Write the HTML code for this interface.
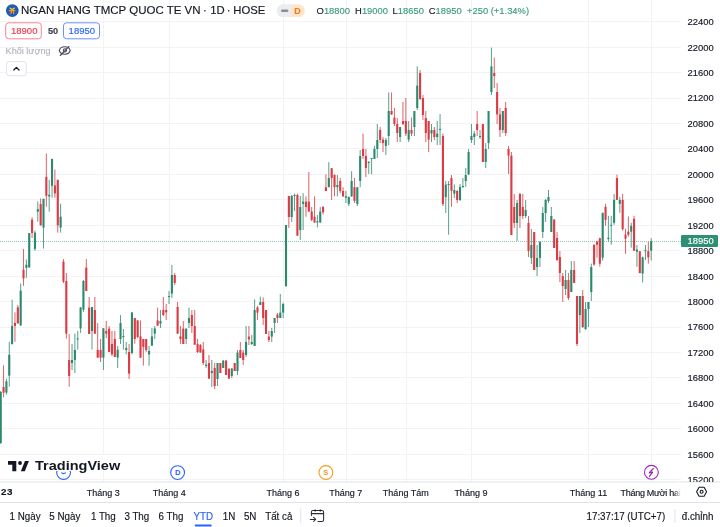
<!DOCTYPE html>
<html><head><meta charset="utf-8"><style>
html,body{margin:0;padding:0;background:#fff;}
body{width:720px;height:527px;overflow:hidden;position:relative;font-family:"Liberation Sans",sans-serif;}
svg{position:absolute;left:0;top:0;}
.t div{position:absolute;white-space:nowrap;line-height:1;-webkit-text-stroke:0.15px currentColor;font-family:"Liberation Sans",sans-serif;}
.clip{position:absolute;left:0;top:482px;width:681px;height:20px;overflow:hidden;will-change:transform;-webkit-text-stroke:0.15px currentColor;font-family:"Liberation Sans",sans-serif;}
</style></head><body>
<svg width="720" height="527" viewBox="0 0 720 527">
<rect x="0" y="21" width="681" height="1" fill="#f3f3f3"/>
<rect x="0" y="47" width="681" height="1" fill="#f3f3f3"/>
<rect x="0" y="72" width="681" height="1" fill="#f3f3f3"/>
<rect x="0" y="98" width="681" height="1" fill="#f3f3f3"/>
<rect x="0" y="123" width="681" height="1" fill="#f3f3f3"/>
<rect x="0" y="148" width="681" height="1" fill="#f3f3f3"/>
<rect x="0" y="174" width="681" height="1" fill="#f3f3f3"/>
<rect x="0" y="199" width="681" height="1" fill="#f3f3f3"/>
<rect x="0" y="225" width="681" height="1" fill="#f3f3f3"/>
<rect x="0" y="250" width="681" height="1" fill="#f3f3f3"/>
<rect x="0" y="276" width="681" height="1" fill="#f3f3f3"/>
<rect x="0" y="301" width="681" height="1" fill="#f3f3f3"/>
<rect x="0" y="327" width="681" height="1" fill="#f3f3f3"/>
<rect x="0" y="352" width="681" height="1" fill="#f3f3f3"/>
<rect x="0" y="377" width="681" height="1" fill="#f3f3f3"/>
<rect x="0" y="403" width="681" height="1" fill="#f3f3f3"/>
<rect x="0" y="428" width="681" height="1" fill="#f3f3f3"/>
<rect x="0" y="454" width="681" height="1" fill="#f3f3f3"/>
<rect x="0" y="479" width="681" height="1" fill="#f3f3f3"/>
<rect x="103" y="0" width="1" height="482" fill="#f3f3f3"/>
<rect x="169" y="0" width="1" height="482" fill="#f3f3f3"/>
<rect x="283" y="0" width="1" height="482" fill="#f3f3f3"/>
<rect x="346" y="0" width="1" height="482" fill="#f3f3f3"/>
<rect x="406" y="0" width="1" height="482" fill="#f3f3f3"/>
<rect x="471" y="0" width="1" height="482" fill="#f3f3f3"/>
<rect x="588" y="0" width="1" height="482" fill="#f3f3f3"/>
<rect x="651" y="0" width="1" height="482" fill="#f3f3f3"/>
<rect x="0.20" y="391.0" width="1.0" height="53.0" fill="#2b8a6e" fill-opacity="0.8"/>
<rect x="-0.35" y="392.0" width="2.1" height="51.0" fill="#2b8a6e"/>
<rect x="3.05" y="365.3" width="1.0" height="31.9" fill="#dc3a44" fill-opacity="0.8"/>
<rect x="2.50" y="387.0" width="2.1" height="5.6" fill="#dc3a44"/>
<rect x="5.91" y="378.7" width="1.0" height="15.9" fill="#2b8a6e" fill-opacity="0.8"/>
<rect x="5.36" y="381.3" width="2.1" height="11.3" fill="#2b8a6e"/>
<rect x="8.76" y="341.8" width="1.0" height="44.9" fill="#2b8a6e" fill-opacity="0.8"/>
<rect x="8.21" y="354.8" width="2.1" height="20.9" fill="#2b8a6e"/>
<rect x="11.61" y="299.7" width="1.0" height="44.5" fill="#2b8a6e" fill-opacity="0.8"/>
<rect x="11.06" y="325.9" width="2.1" height="18.3" fill="#2b8a6e"/>
<rect x="14.46" y="312.4" width="1.0" height="29.4" fill="#dc3a44" fill-opacity="0.8"/>
<rect x="13.91" y="322.9" width="2.1" height="3.1" fill="#dc3a44"/>
<rect x="17.32" y="305.0" width="1.0" height="19.0" fill="#dc3a44" fill-opacity="0.8"/>
<rect x="16.77" y="307.3" width="2.1" height="15.9" fill="#dc3a44"/>
<rect x="20.17" y="283.4" width="1.0" height="42.1" fill="#2b8a6e" fill-opacity="0.8"/>
<rect x="19.62" y="290.7" width="2.1" height="34.8" fill="#2b8a6e"/>
<rect x="23.02" y="248.9" width="1.0" height="36.9" fill="#dc3a44" fill-opacity="0.8"/>
<rect x="22.47" y="269.8" width="2.1" height="8.6" fill="#dc3a44"/>
<rect x="25.88" y="259.5" width="1.0" height="18.3" fill="#2b8a6e" fill-opacity="0.8"/>
<rect x="25.33" y="264.8" width="2.1" height="3.0" fill="#2b8a6e"/>
<rect x="28.73" y="233.0" width="1.0" height="34.8" fill="#2b8a6e" fill-opacity="0.8"/>
<rect x="28.18" y="233.0" width="2.1" height="34.4" fill="#2b8a6e"/>
<rect x="31.58" y="217.3" width="1.0" height="20.7" fill="#dc3a44" fill-opacity="0.8"/>
<rect x="31.03" y="219.7" width="2.1" height="13.3" fill="#dc3a44"/>
<rect x="34.44" y="230.6" width="1.0" height="20.3" fill="#2b8a6e" fill-opacity="0.8"/>
<rect x="33.89" y="232.6" width="2.1" height="16.3" fill="#2b8a6e"/>
<rect x="37.29" y="201.4" width="1.0" height="20.3" fill="#2b8a6e" fill-opacity="0.8"/>
<rect x="36.74" y="209.1" width="2.1" height="2.6" fill="#2b8a6e"/>
<rect x="40.14" y="198.4" width="1.0" height="27.3" fill="#dc3a44" fill-opacity="0.8"/>
<rect x="39.59" y="204.1" width="2.1" height="21.2" fill="#dc3a44"/>
<rect x="43.00" y="198.8" width="1.0" height="49.7" fill="#2b8a6e" fill-opacity="0.8"/>
<rect x="42.45" y="198.8" width="2.1" height="28.8" fill="#2b8a6e"/>
<rect x="45.85" y="153.5" width="1.0" height="53.2" fill="#dc3a44" fill-opacity="0.8"/>
<rect x="45.30" y="176.9" width="2.1" height="18.9" fill="#dc3a44"/>
<rect x="48.70" y="179.8" width="1.0" height="31.9" fill="#2b8a6e" fill-opacity="0.8"/>
<rect x="48.15" y="194.8" width="2.1" height="1.6" fill="#2b8a6e"/>
<rect x="51.55" y="158.9" width="1.0" height="38.9" fill="#2b8a6e" fill-opacity="0.8"/>
<rect x="51.00" y="158.9" width="2.1" height="26.9" fill="#2b8a6e"/>
<rect x="54.41" y="169.5" width="1.0" height="28.3" fill="#dc3a44" fill-opacity="0.8"/>
<rect x="53.86" y="185.4" width="2.1" height="8.0" fill="#dc3a44"/>
<rect x="57.26" y="179.8" width="1.0" height="52.8" fill="#dc3a44" fill-opacity="0.8"/>
<rect x="56.71" y="179.8" width="2.1" height="45.5" fill="#dc3a44"/>
<rect x="60.11" y="203.7" width="1.0" height="28.9" fill="#2b8a6e" fill-opacity="0.8"/>
<rect x="59.56" y="216.7" width="2.1" height="10.9" fill="#2b8a6e"/>
<rect x="62.97" y="259.0" width="1.0" height="24.0" fill="#dc3a44" fill-opacity="0.8"/>
<rect x="62.42" y="261.6" width="2.1" height="20.0" fill="#dc3a44"/>
<rect x="65.82" y="273.0" width="1.0" height="65.6" fill="#dc3a44" fill-opacity="0.8"/>
<rect x="65.27" y="281.0" width="2.1" height="52.6" fill="#dc3a44"/>
<rect x="68.67" y="334.0" width="1.0" height="52.7" fill="#dc3a44" fill-opacity="0.8"/>
<rect x="68.12" y="360.0" width="2.1" height="16.0" fill="#dc3a44"/>
<rect x="71.53" y="344.0" width="1.0" height="26.0" fill="#2b8a6e" fill-opacity="0.8"/>
<rect x="70.98" y="360.0" width="2.1" height="3.0" fill="#2b8a6e"/>
<rect x="74.38" y="333.6" width="1.0" height="39.4" fill="#2b8a6e" fill-opacity="0.8"/>
<rect x="73.83" y="350.0" width="2.1" height="10.0" fill="#2b8a6e"/>
<rect x="77.23" y="331.0" width="1.0" height="18.6" fill="#2b8a6e" fill-opacity="0.8"/>
<rect x="76.68" y="338.4" width="2.1" height="1.0" fill="#2b8a6e"/>
<rect x="80.08" y="307.0" width="1.0" height="26.0" fill="#2b8a6e" fill-opacity="0.8"/>
<rect x="79.53" y="307.6" width="2.1" height="20.8" fill="#2b8a6e"/>
<rect x="82.94" y="280.0" width="1.0" height="32.0" fill="#2b8a6e" fill-opacity="0.8"/>
<rect x="82.39" y="281.0" width="2.1" height="28.6" fill="#2b8a6e"/>
<rect x="85.79" y="259.0" width="1.0" height="32.0" fill="#dc3a44" fill-opacity="0.8"/>
<rect x="85.24" y="267.6" width="2.1" height="23.4" fill="#dc3a44"/>
<rect x="88.64" y="297.0" width="1.0" height="37.0" fill="#dc3a44" fill-opacity="0.8"/>
<rect x="88.09" y="307.6" width="2.1" height="26.4" fill="#dc3a44"/>
<rect x="91.50" y="307.0" width="1.0" height="42.6" fill="#2b8a6e" fill-opacity="0.8"/>
<rect x="90.95" y="307.0" width="2.1" height="24.0" fill="#2b8a6e"/>
<rect x="94.35" y="297.0" width="1.0" height="37.0" fill="#dc3a44" fill-opacity="0.8"/>
<rect x="93.80" y="310.0" width="2.1" height="23.6" fill="#dc3a44"/>
<rect x="97.20" y="323.0" width="1.0" height="35.0" fill="#dc3a44" fill-opacity="0.8"/>
<rect x="96.65" y="350.0" width="2.1" height="7.6" fill="#dc3a44"/>
<rect x="100.06" y="339.0" width="1.0" height="23.0" fill="#dc3a44" fill-opacity="0.8"/>
<rect x="99.51" y="350.0" width="2.1" height="7.6" fill="#dc3a44"/>
<rect x="102.91" y="328.0" width="1.0" height="42.0" fill="#2b8a6e" fill-opacity="0.8"/>
<rect x="102.36" y="328.4" width="2.1" height="29.2" fill="#2b8a6e"/>
<rect x="105.76" y="321.0" width="1.0" height="17.0" fill="#dc3a44" fill-opacity="0.8"/>
<rect x="105.21" y="331.0" width="2.1" height="2.6" fill="#dc3a44"/>
<rect x="108.61" y="326.0" width="1.0" height="26.0" fill="#dc3a44" fill-opacity="0.8"/>
<rect x="108.06" y="328.6" width="2.1" height="23.4" fill="#dc3a44"/>
<rect x="111.47" y="331.0" width="1.0" height="25.0" fill="#dc3a44" fill-opacity="0.8"/>
<rect x="110.92" y="344.0" width="2.1" height="10.4" fill="#dc3a44"/>
<rect x="114.32" y="331.0" width="1.0" height="26.0" fill="#dc3a44" fill-opacity="0.8"/>
<rect x="113.77" y="339.0" width="2.1" height="18.0" fill="#dc3a44"/>
<rect x="117.17" y="346.0" width="1.0" height="22.0" fill="#2b8a6e" fill-opacity="0.8"/>
<rect x="116.62" y="349.6" width="2.1" height="8.0" fill="#2b8a6e"/>
<rect x="120.03" y="315.0" width="1.0" height="29.0" fill="#2b8a6e" fill-opacity="0.8"/>
<rect x="119.48" y="323.0" width="2.1" height="16.0" fill="#2b8a6e"/>
<rect x="122.88" y="329.0" width="1.0" height="20.6" fill="#2b8a6e" fill-opacity="0.8"/>
<rect x="122.33" y="336.0" width="2.1" height="1.0" fill="#2b8a6e"/>
<rect x="125.73" y="342.0" width="1.0" height="12.4" fill="#2b8a6e" fill-opacity="0.8"/>
<rect x="125.18" y="348.0" width="2.1" height="2.0" fill="#2b8a6e"/>
<rect x="128.59" y="344.0" width="1.0" height="35.0" fill="#dc3a44" fill-opacity="0.8"/>
<rect x="128.03" y="352.0" width="2.1" height="21.6" fill="#dc3a44"/>
<rect x="131.44" y="312.4" width="1.0" height="42.0" fill="#2b8a6e" fill-opacity="0.8"/>
<rect x="130.89" y="312.4" width="2.1" height="40.6" fill="#2b8a6e"/>
<rect x="134.29" y="318.0" width="1.0" height="25.6" fill="#dc3a44" fill-opacity="0.8"/>
<rect x="133.74" y="318.0" width="2.1" height="21.0" fill="#dc3a44"/>
<rect x="137.14" y="320.4" width="1.0" height="17.6" fill="#dc3a44" fill-opacity="0.8"/>
<rect x="136.59" y="320.4" width="2.1" height="16.6" fill="#dc3a44"/>
<rect x="140.00" y="320.4" width="1.0" height="37.6" fill="#dc3a44" fill-opacity="0.8"/>
<rect x="139.45" y="336.4" width="2.1" height="21.2" fill="#dc3a44"/>
<rect x="142.85" y="339.0" width="1.0" height="26.6" fill="#dc3a44" fill-opacity="0.8"/>
<rect x="142.30" y="339.0" width="2.1" height="8.0" fill="#dc3a44"/>
<rect x="145.70" y="339.0" width="1.0" height="13.0" fill="#dc3a44" fill-opacity="0.8"/>
<rect x="145.15" y="339.0" width="2.1" height="11.0" fill="#dc3a44"/>
<rect x="148.56" y="346.0" width="1.0" height="19.6" fill="#2b8a6e" fill-opacity="0.8"/>
<rect x="148.01" y="351.0" width="2.1" height="3.4" fill="#2b8a6e"/>
<rect x="151.41" y="328.0" width="1.0" height="18.0" fill="#2b8a6e" fill-opacity="0.8"/>
<rect x="150.86" y="336.4" width="2.1" height="9.2" fill="#2b8a6e"/>
<rect x="154.26" y="326.0" width="1.0" height="13.0" fill="#2b8a6e" fill-opacity="0.8"/>
<rect x="153.71" y="328.4" width="2.1" height="5.2" fill="#2b8a6e"/>
<rect x="157.12" y="307.6" width="1.0" height="18.4" fill="#dc3a44" fill-opacity="0.8"/>
<rect x="156.56" y="320.4" width="2.1" height="5.2" fill="#dc3a44"/>
<rect x="159.97" y="310.0" width="1.0" height="18.0" fill="#2b8a6e" fill-opacity="0.8"/>
<rect x="159.42" y="321.0" width="2.1" height="2.6" fill="#2b8a6e"/>
<rect x="162.82" y="297.0" width="1.0" height="19.0" fill="#dc3a44" fill-opacity="0.8"/>
<rect x="162.27" y="310.0" width="2.1" height="5.0" fill="#dc3a44"/>
<rect x="165.67" y="304.0" width="1.0" height="16.0" fill="#dc3a44" fill-opacity="0.8"/>
<rect x="165.12" y="310.0" width="2.1" height="2.4" fill="#dc3a44"/>
<rect x="168.53" y="291.0" width="1.0" height="13.0" fill="#2b8a6e" fill-opacity="0.8"/>
<rect x="167.98" y="296.0" width="2.1" height="1.0" fill="#2b8a6e"/>
<rect x="171.38" y="265.0" width="1.0" height="33.0" fill="#2b8a6e" fill-opacity="0.8"/>
<rect x="170.83" y="275.0" width="2.1" height="18.6" fill="#2b8a6e"/>
<rect x="174.23" y="273.0" width="1.0" height="12.0" fill="#dc3a44" fill-opacity="0.8"/>
<rect x="173.68" y="275.0" width="2.1" height="8.0" fill="#dc3a44"/>
<rect x="177.09" y="302.0" width="1.0" height="32.0" fill="#dc3a44" fill-opacity="0.8"/>
<rect x="176.54" y="307.0" width="2.1" height="26.6" fill="#dc3a44"/>
<rect x="179.94" y="326.0" width="1.0" height="18.0" fill="#dc3a44" fill-opacity="0.8"/>
<rect x="179.39" y="336.4" width="2.1" height="2.6" fill="#dc3a44"/>
<rect x="182.79" y="321.0" width="1.0" height="23.0" fill="#dc3a44" fill-opacity="0.8"/>
<rect x="182.24" y="328.6" width="2.1" height="15.4" fill="#dc3a44"/>
<rect x="185.65" y="328.6" width="1.0" height="15.4" fill="#2b8a6e" fill-opacity="0.8"/>
<rect x="185.09" y="328.6" width="2.1" height="10.4" fill="#2b8a6e"/>
<rect x="188.50" y="307.6" width="1.0" height="20.4" fill="#2b8a6e" fill-opacity="0.8"/>
<rect x="187.95" y="318.0" width="2.1" height="5.0" fill="#2b8a6e"/>
<rect x="191.35" y="310.0" width="1.0" height="23.0" fill="#dc3a44" fill-opacity="0.8"/>
<rect x="190.80" y="315.0" width="2.1" height="11.0" fill="#dc3a44"/>
<rect x="194.20" y="310.0" width="1.0" height="35.0" fill="#dc3a44" fill-opacity="0.8"/>
<rect x="193.65" y="326.0" width="2.1" height="18.6" fill="#dc3a44"/>
<rect x="197.06" y="339.0" width="1.0" height="14.0" fill="#dc3a44" fill-opacity="0.8"/>
<rect x="196.51" y="344.0" width="2.1" height="8.0" fill="#dc3a44"/>
<rect x="199.91" y="344.0" width="1.0" height="8.6" fill="#dc3a44" fill-opacity="0.8"/>
<rect x="199.36" y="345.0" width="2.1" height="7.6" fill="#dc3a44"/>
<rect x="202.76" y="342.0" width="1.0" height="23.0" fill="#dc3a44" fill-opacity="0.8"/>
<rect x="202.21" y="349.4" width="2.1" height="13.6" fill="#dc3a44"/>
<rect x="205.62" y="360.0" width="1.0" height="8.0" fill="#2b8a6e" fill-opacity="0.8"/>
<rect x="205.07" y="364.6" width="2.1" height="1.4" fill="#2b8a6e"/>
<rect x="208.47" y="355.0" width="1.0" height="24.0" fill="#dc3a44" fill-opacity="0.8"/>
<rect x="207.92" y="363.0" width="2.1" height="15.6" fill="#dc3a44"/>
<rect x="211.32" y="360.0" width="1.0" height="27.0" fill="#2b8a6e" fill-opacity="0.8"/>
<rect x="210.77" y="371.0" width="2.1" height="2.0" fill="#2b8a6e"/>
<rect x="214.18" y="363.0" width="1.0" height="26.0" fill="#dc3a44" fill-opacity="0.8"/>
<rect x="213.62" y="368.0" width="2.1" height="18.0" fill="#dc3a44"/>
<rect x="217.03" y="363.0" width="1.0" height="23.0" fill="#2b8a6e" fill-opacity="0.8"/>
<rect x="216.48" y="363.0" width="2.1" height="16.0" fill="#2b8a6e"/>
<rect x="219.88" y="363.0" width="1.0" height="10.0" fill="#dc3a44" fill-opacity="0.8"/>
<rect x="219.33" y="363.0" width="2.1" height="10.0" fill="#dc3a44"/>
<rect x="222.73" y="360.0" width="1.0" height="8.0" fill="#2b8a6e" fill-opacity="0.8"/>
<rect x="222.18" y="360.6" width="2.1" height="7.4" fill="#2b8a6e"/>
<rect x="225.59" y="360.0" width="1.0" height="15.0" fill="#dc3a44" fill-opacity="0.8"/>
<rect x="225.04" y="360.6" width="2.1" height="14.4" fill="#dc3a44"/>
<rect x="228.44" y="368.6" width="1.0" height="10.0" fill="#dc3a44" fill-opacity="0.8"/>
<rect x="227.89" y="368.6" width="2.1" height="10.0" fill="#dc3a44"/>
<rect x="231.29" y="368.0" width="1.0" height="10.0" fill="#2b8a6e" fill-opacity="0.8"/>
<rect x="230.74" y="368.6" width="2.1" height="7.4" fill="#2b8a6e"/>
<rect x="234.15" y="363.0" width="1.0" height="8.0" fill="#dc3a44" fill-opacity="0.8"/>
<rect x="233.60" y="363.0" width="2.1" height="8.0" fill="#dc3a44"/>
<rect x="237.00" y="350.0" width="1.0" height="25.0" fill="#2b8a6e" fill-opacity="0.8"/>
<rect x="236.45" y="352.6" width="2.1" height="18.4" fill="#2b8a6e"/>
<rect x="239.85" y="342.0" width="1.0" height="16.0" fill="#dc3a44" fill-opacity="0.8"/>
<rect x="239.30" y="350.0" width="2.1" height="8.0" fill="#dc3a44"/>
<rect x="242.71" y="350.0" width="1.0" height="15.0" fill="#dc3a44" fill-opacity="0.8"/>
<rect x="242.16" y="352.6" width="2.1" height="7.4" fill="#dc3a44"/>
<rect x="245.56" y="326.0" width="1.0" height="31.0" fill="#2b8a6e" fill-opacity="0.8"/>
<rect x="245.01" y="342.0" width="2.1" height="13.0" fill="#2b8a6e"/>
<rect x="248.41" y="326.0" width="1.0" height="19.0" fill="#dc3a44" fill-opacity="0.8"/>
<rect x="247.86" y="336.6" width="2.1" height="2.8" fill="#dc3a44"/>
<rect x="251.26" y="335.0" width="1.0" height="10.0" fill="#2b8a6e" fill-opacity="0.8"/>
<rect x="250.71" y="342.0" width="2.1" height="2.0" fill="#2b8a6e"/>
<rect x="254.12" y="299.4" width="1.0" height="46.6" fill="#2b8a6e" fill-opacity="0.8"/>
<rect x="253.57" y="310.0" width="2.1" height="36.0" fill="#2b8a6e"/>
<rect x="256.97" y="306.0" width="1.0" height="14.0" fill="#dc3a44" fill-opacity="0.8"/>
<rect x="256.42" y="307.4" width="2.1" height="5.2" fill="#dc3a44"/>
<rect x="259.82" y="296.6" width="1.0" height="8.4" fill="#2b8a6e" fill-opacity="0.8"/>
<rect x="259.27" y="302.0" width="2.1" height="3.0" fill="#2b8a6e"/>
<rect x="262.68" y="297.4" width="1.0" height="27.6" fill="#dc3a44" fill-opacity="0.8"/>
<rect x="262.13" y="302.0" width="2.1" height="16.0" fill="#dc3a44"/>
<rect x="265.53" y="310.0" width="1.0" height="24.0" fill="#dc3a44" fill-opacity="0.8"/>
<rect x="264.98" y="310.0" width="2.1" height="24.0" fill="#dc3a44"/>
<rect x="268.38" y="331.0" width="1.0" height="11.0" fill="#dc3a44" fill-opacity="0.8"/>
<rect x="267.83" y="336.6" width="2.1" height="3.4" fill="#dc3a44"/>
<rect x="271.24" y="328.0" width="1.0" height="14.0" fill="#2b8a6e" fill-opacity="0.8"/>
<rect x="270.69" y="331.0" width="2.1" height="5.6" fill="#2b8a6e"/>
<rect x="274.09" y="318.0" width="1.0" height="15.0" fill="#2b8a6e" fill-opacity="0.8"/>
<rect x="273.54" y="318.0" width="2.1" height="5.0" fill="#2b8a6e"/>
<rect x="276.94" y="313.0" width="1.0" height="10.0" fill="#dc3a44" fill-opacity="0.8"/>
<rect x="276.39" y="314.6" width="2.1" height="3.4" fill="#dc3a44"/>
<rect x="279.79" y="294.0" width="1.0" height="24.0" fill="#2b8a6e" fill-opacity="0.8"/>
<rect x="279.24" y="312.6" width="2.1" height="5.4" fill="#2b8a6e"/>
<rect x="282.65" y="302.6" width="1.0" height="15.4" fill="#2b8a6e" fill-opacity="0.8"/>
<rect x="282.10" y="304.0" width="2.1" height="8.6" fill="#2b8a6e"/>
<rect x="285.50" y="225.0" width="1.0" height="62.0" fill="#2b8a6e" fill-opacity="0.8"/>
<rect x="284.95" y="225.0" width="2.1" height="61.0" fill="#2b8a6e"/>
<rect x="288.35" y="196.0" width="1.0" height="32.0" fill="#dc3a44" fill-opacity="0.8"/>
<rect x="287.80" y="196.0" width="2.1" height="21.0" fill="#dc3a44"/>
<rect x="291.21" y="195.0" width="1.0" height="27.0" fill="#2b8a6e" fill-opacity="0.8"/>
<rect x="290.66" y="196.0" width="2.1" height="21.0" fill="#2b8a6e"/>
<rect x="294.06" y="193.6" width="1.0" height="17.4" fill="#2b8a6e" fill-opacity="0.8"/>
<rect x="293.51" y="195.0" width="2.1" height="1.0" fill="#2b8a6e"/>
<rect x="296.91" y="193.6" width="1.0" height="42.4" fill="#dc3a44" fill-opacity="0.8"/>
<rect x="296.36" y="195.0" width="2.1" height="40.6" fill="#dc3a44"/>
<rect x="299.76" y="196.0" width="1.0" height="44.0" fill="#2b8a6e" fill-opacity="0.8"/>
<rect x="299.21" y="207.0" width="2.1" height="23.0" fill="#2b8a6e"/>
<rect x="302.62" y="193.2" width="1.0" height="36.8" fill="#2b8a6e" fill-opacity="0.8"/>
<rect x="302.07" y="201.6" width="2.1" height="2.3" fill="#2b8a6e"/>
<rect x="305.47" y="196.3" width="1.0" height="20.5" fill="#dc3a44" fill-opacity="0.8"/>
<rect x="304.92" y="201.6" width="2.1" height="5.4" fill="#dc3a44"/>
<rect x="308.32" y="172.0" width="1.0" height="40.0" fill="#dc3a44" fill-opacity="0.8"/>
<rect x="307.77" y="201.6" width="2.1" height="9.9" fill="#dc3a44"/>
<rect x="311.18" y="207.0" width="1.0" height="14.3" fill="#dc3a44" fill-opacity="0.8"/>
<rect x="310.63" y="211.5" width="2.1" height="8.3" fill="#dc3a44"/>
<rect x="314.03" y="196.3" width="1.0" height="26.5" fill="#dc3a44" fill-opacity="0.8"/>
<rect x="313.48" y="216.8" width="2.1" height="5.7" fill="#dc3a44"/>
<rect x="316.88" y="215.0" width="1.0" height="12.4" fill="#2b8a6e" fill-opacity="0.8"/>
<rect x="316.33" y="221.3" width="2.1" height="1.2" fill="#2b8a6e"/>
<rect x="319.74" y="207.0" width="1.0" height="15.8" fill="#2b8a6e" fill-opacity="0.8"/>
<rect x="319.19" y="211.5" width="2.1" height="11.0" fill="#2b8a6e"/>
<rect x="322.59" y="206.0" width="1.0" height="8.5" fill="#dc3a44" fill-opacity="0.8"/>
<rect x="322.04" y="207.0" width="2.1" height="5.2" fill="#dc3a44"/>
<rect x="325.44" y="174.3" width="1.0" height="16.7" fill="#dc3a44" fill-opacity="0.8"/>
<rect x="324.89" y="187.2" width="2.1" height="3.8" fill="#dc3a44"/>
<rect x="328.30" y="162.1" width="1.0" height="25.1" fill="#2b8a6e" fill-opacity="0.8"/>
<rect x="327.75" y="178.0" width="2.1" height="9.2" fill="#2b8a6e"/>
<rect x="331.15" y="168.2" width="1.0" height="31.8" fill="#dc3a44" fill-opacity="0.8"/>
<rect x="330.60" y="168.2" width="2.1" height="9.8" fill="#dc3a44"/>
<rect x="334.00" y="174.3" width="1.0" height="22.0" fill="#dc3a44" fill-opacity="0.8"/>
<rect x="333.45" y="175.0" width="2.1" height="12.2" fill="#dc3a44"/>
<rect x="336.85" y="175.0" width="1.0" height="21.3" fill="#2b8a6e" fill-opacity="0.8"/>
<rect x="336.30" y="185.0" width="2.1" height="2.2" fill="#2b8a6e"/>
<rect x="339.71" y="178.0" width="1.0" height="15.2" fill="#dc3a44" fill-opacity="0.8"/>
<rect x="339.16" y="181.0" width="2.1" height="10.0" fill="#dc3a44"/>
<rect x="342.56" y="187.2" width="1.0" height="9.8" fill="#dc3a44" fill-opacity="0.8"/>
<rect x="342.01" y="191.0" width="2.1" height="5.3" fill="#dc3a44"/>
<rect x="345.41" y="191.0" width="1.0" height="12.0" fill="#2b8a6e" fill-opacity="0.8"/>
<rect x="344.86" y="196.3" width="2.1" height="1.5" fill="#2b8a6e"/>
<rect x="348.27" y="196.3" width="1.0" height="9.7" fill="#2b8a6e" fill-opacity="0.8"/>
<rect x="347.72" y="197.0" width="2.1" height="6.9" fill="#2b8a6e"/>
<rect x="351.12" y="171.2" width="1.0" height="25.8" fill="#2b8a6e" fill-opacity="0.8"/>
<rect x="350.57" y="181.0" width="2.1" height="15.3" fill="#2b8a6e"/>
<rect x="353.97" y="178.0" width="1.0" height="25.0" fill="#dc3a44" fill-opacity="0.8"/>
<rect x="353.42" y="187.2" width="2.1" height="13.6" fill="#dc3a44"/>
<rect x="356.82" y="187.2" width="1.0" height="18.8" fill="#2b8a6e" fill-opacity="0.8"/>
<rect x="356.27" y="187.2" width="2.1" height="16.7" fill="#2b8a6e"/>
<rect x="359.68" y="150.0" width="1.0" height="37.2" fill="#2b8a6e" fill-opacity="0.8"/>
<rect x="359.13" y="156.0" width="2.1" height="25.0" fill="#2b8a6e"/>
<rect x="362.53" y="133.6" width="1.0" height="25.4" fill="#dc3a44" fill-opacity="0.8"/>
<rect x="361.98" y="149.0" width="2.1" height="7.0" fill="#dc3a44"/>
<rect x="365.38" y="149.0" width="1.0" height="28.0" fill="#dc3a44" fill-opacity="0.8"/>
<rect x="364.83" y="156.0" width="2.1" height="12.0" fill="#dc3a44"/>
<rect x="368.24" y="161.0" width="1.0" height="13.0" fill="#2b8a6e" fill-opacity="0.8"/>
<rect x="367.69" y="162.0" width="2.1" height="1.0" fill="#2b8a6e"/>
<rect x="371.09" y="158.0" width="1.0" height="16.4" fill="#2b8a6e" fill-opacity="0.8"/>
<rect x="370.54" y="158.0" width="2.1" height="1.0" fill="#2b8a6e"/>
<rect x="373.94" y="146.0" width="1.0" height="13.0" fill="#2b8a6e" fill-opacity="0.8"/>
<rect x="373.39" y="149.0" width="2.1" height="10.0" fill="#2b8a6e"/>
<rect x="376.80" y="124.0" width="1.0" height="34.0" fill="#2b8a6e" fill-opacity="0.8"/>
<rect x="376.25" y="140.0" width="2.1" height="9.0" fill="#2b8a6e"/>
<rect x="379.65" y="127.0" width="1.0" height="16.0" fill="#dc3a44" fill-opacity="0.8"/>
<rect x="379.10" y="130.0" width="2.1" height="10.0" fill="#dc3a44"/>
<rect x="382.50" y="137.0" width="1.0" height="15.0" fill="#dc3a44" fill-opacity="0.8"/>
<rect x="381.95" y="139.6" width="2.1" height="3.4" fill="#dc3a44"/>
<rect x="385.36" y="138.0" width="1.0" height="17.0" fill="#2b8a6e" fill-opacity="0.8"/>
<rect x="384.81" y="140.0" width="2.1" height="6.0" fill="#2b8a6e"/>
<rect x="388.21" y="92.4" width="1.0" height="52.6" fill="#2b8a6e" fill-opacity="0.8"/>
<rect x="387.66" y="111.0" width="2.1" height="25.0" fill="#2b8a6e"/>
<rect x="391.06" y="92.4" width="1.0" height="22.6" fill="#dc3a44" fill-opacity="0.8"/>
<rect x="390.51" y="111.0" width="2.1" height="3.4" fill="#dc3a44"/>
<rect x="393.91" y="108.0" width="1.0" height="18.0" fill="#dc3a44" fill-opacity="0.8"/>
<rect x="393.36" y="117.6" width="2.1" height="6.4" fill="#dc3a44"/>
<rect x="396.77" y="118.0" width="1.0" height="24.0" fill="#dc3a44" fill-opacity="0.8"/>
<rect x="396.22" y="124.0" width="2.1" height="9.0" fill="#dc3a44"/>
<rect x="399.62" y="127.0" width="1.0" height="15.0" fill="#2b8a6e" fill-opacity="0.8"/>
<rect x="399.07" y="127.0" width="2.1" height="10.0" fill="#2b8a6e"/>
<rect x="402.47" y="102.0" width="1.0" height="23.0" fill="#dc3a44" fill-opacity="0.8"/>
<rect x="401.92" y="121.0" width="2.1" height="3.0" fill="#dc3a44"/>
<rect x="405.33" y="98.0" width="1.0" height="38.0" fill="#dc3a44" fill-opacity="0.8"/>
<rect x="404.78" y="121.0" width="2.1" height="12.6" fill="#dc3a44"/>
<rect x="408.18" y="121.0" width="1.0" height="21.0" fill="#2b8a6e" fill-opacity="0.8"/>
<rect x="407.63" y="130.0" width="2.1" height="9.6" fill="#2b8a6e"/>
<rect x="411.03" y="117.6" width="1.0" height="18.4" fill="#dc3a44" fill-opacity="0.8"/>
<rect x="410.48" y="130.0" width="2.1" height="3.6" fill="#dc3a44"/>
<rect x="413.88" y="111.0" width="1.0" height="25.0" fill="#2b8a6e" fill-opacity="0.8"/>
<rect x="413.33" y="111.0" width="2.1" height="16.0" fill="#2b8a6e"/>
<rect x="416.74" y="66.4" width="1.0" height="43.6" fill="#2b8a6e" fill-opacity="0.8"/>
<rect x="416.19" y="85.6" width="2.1" height="22.4" fill="#2b8a6e"/>
<rect x="419.59" y="70.0" width="1.0" height="30.0" fill="#dc3a44" fill-opacity="0.8"/>
<rect x="419.04" y="73.0" width="2.1" height="26.0" fill="#dc3a44"/>
<rect x="422.44" y="95.0" width="1.0" height="25.0" fill="#dc3a44" fill-opacity="0.8"/>
<rect x="421.89" y="98.0" width="2.1" height="17.0" fill="#dc3a44"/>
<rect x="425.30" y="111.0" width="1.0" height="31.0" fill="#dc3a44" fill-opacity="0.8"/>
<rect x="424.75" y="118.0" width="2.1" height="15.0" fill="#dc3a44"/>
<rect x="428.15" y="121.0" width="1.0" height="31.0" fill="#dc3a44" fill-opacity="0.8"/>
<rect x="427.60" y="121.0" width="2.1" height="18.6" fill="#dc3a44"/>
<rect x="431.00" y="124.0" width="1.0" height="18.0" fill="#2b8a6e" fill-opacity="0.8"/>
<rect x="430.45" y="130.0" width="2.1" height="3.6" fill="#2b8a6e"/>
<rect x="433.86" y="127.0" width="1.0" height="13.0" fill="#dc3a44" fill-opacity="0.8"/>
<rect x="433.31" y="130.0" width="2.1" height="7.0" fill="#dc3a44"/>
<rect x="436.71" y="121.0" width="1.0" height="24.0" fill="#2b8a6e" fill-opacity="0.8"/>
<rect x="436.16" y="133.6" width="2.1" height="3.4" fill="#2b8a6e"/>
<rect x="439.56" y="114.0" width="1.0" height="31.0" fill="#2b8a6e" fill-opacity="0.8"/>
<rect x="439.01" y="129.0" width="2.1" height="1.0" fill="#2b8a6e"/>
<rect x="442.42" y="133.6" width="1.0" height="72.4" fill="#dc3a44" fill-opacity="0.8"/>
<rect x="441.87" y="136.0" width="2.1" height="68.0" fill="#dc3a44"/>
<rect x="445.27" y="181.0" width="1.0" height="32.0" fill="#2b8a6e" fill-opacity="0.8"/>
<rect x="444.72" y="184.6" width="2.1" height="12.5" fill="#2b8a6e"/>
<rect x="448.12" y="181.0" width="1.0" height="53.7" fill="#2b8a6e" fill-opacity="0.8"/>
<rect x="447.57" y="184.0" width="2.1" height="1.0" fill="#2b8a6e"/>
<rect x="450.97" y="175.0" width="1.0" height="31.8" fill="#dc3a44" fill-opacity="0.8"/>
<rect x="450.42" y="178.0" width="2.1" height="12.8" fill="#dc3a44"/>
<rect x="453.83" y="184.4" width="1.0" height="13.6" fill="#2b8a6e" fill-opacity="0.8"/>
<rect x="453.28" y="190.0" width="2.1" height="3.6" fill="#2b8a6e"/>
<rect x="456.68" y="190.0" width="1.0" height="13.0" fill="#dc3a44" fill-opacity="0.8"/>
<rect x="456.13" y="191.0" width="2.1" height="9.0" fill="#dc3a44"/>
<rect x="459.53" y="184.0" width="1.0" height="17.0" fill="#2b8a6e" fill-opacity="0.8"/>
<rect x="458.98" y="187.0" width="2.1" height="13.0" fill="#2b8a6e"/>
<rect x="462.39" y="178.0" width="1.0" height="10.0" fill="#2b8a6e" fill-opacity="0.8"/>
<rect x="461.84" y="186.0" width="2.1" height="1.0" fill="#2b8a6e"/>
<rect x="465.24" y="168.0" width="1.0" height="19.0" fill="#2b8a6e" fill-opacity="0.8"/>
<rect x="464.69" y="175.0" width="2.1" height="6.0" fill="#2b8a6e"/>
<rect x="468.09" y="149.0" width="1.0" height="26.0" fill="#2b8a6e" fill-opacity="0.8"/>
<rect x="467.54" y="152.0" width="2.1" height="22.4" fill="#2b8a6e"/>
<rect x="470.95" y="124.0" width="1.0" height="19.0" fill="#2b8a6e" fill-opacity="0.8"/>
<rect x="470.40" y="136.0" width="2.1" height="4.0" fill="#2b8a6e"/>
<rect x="473.80" y="131.0" width="1.0" height="14.0" fill="#2b8a6e" fill-opacity="0.8"/>
<rect x="473.25" y="133.6" width="2.1" height="3.4" fill="#2b8a6e"/>
<rect x="476.65" y="111.0" width="1.0" height="25.0" fill="#dc3a44" fill-opacity="0.8"/>
<rect x="476.10" y="124.0" width="2.1" height="6.0" fill="#dc3a44"/>
<rect x="479.50" y="130.0" width="1.0" height="9.0" fill="#2b8a6e" fill-opacity="0.8"/>
<rect x="478.95" y="136.0" width="2.1" height="1.0" fill="#2b8a6e"/>
<rect x="482.36" y="124.0" width="1.0" height="38.0" fill="#dc3a44" fill-opacity="0.8"/>
<rect x="481.81" y="124.0" width="2.1" height="38.0" fill="#dc3a44"/>
<rect x="485.21" y="143.0" width="1.0" height="25.0" fill="#2b8a6e" fill-opacity="0.8"/>
<rect x="484.66" y="149.0" width="2.1" height="13.0" fill="#2b8a6e"/>
<rect x="488.06" y="111.0" width="1.0" height="38.0" fill="#2b8a6e" fill-opacity="0.8"/>
<rect x="487.51" y="111.0" width="2.1" height="32.0" fill="#2b8a6e"/>
<rect x="490.92" y="47.6" width="1.0" height="47.4" fill="#2b8a6e" fill-opacity="0.8"/>
<rect x="490.37" y="66.4" width="2.1" height="25.6" fill="#2b8a6e"/>
<rect x="493.77" y="57.6" width="1.0" height="30.4" fill="#dc3a44" fill-opacity="0.8"/>
<rect x="493.22" y="73.0" width="2.1" height="3.0" fill="#dc3a44"/>
<rect x="496.62" y="83.0" width="1.0" height="41.0" fill="#dc3a44" fill-opacity="0.8"/>
<rect x="496.07" y="92.0" width="2.1" height="22.4" fill="#dc3a44"/>
<rect x="499.48" y="108.0" width="1.0" height="29.0" fill="#dc3a44" fill-opacity="0.8"/>
<rect x="498.93" y="114.4" width="2.1" height="15.6" fill="#dc3a44"/>
<rect x="502.33" y="111.0" width="1.0" height="22.0" fill="#2b8a6e" fill-opacity="0.8"/>
<rect x="501.78" y="111.0" width="2.1" height="19.0" fill="#2b8a6e"/>
<rect x="505.18" y="102.0" width="1.0" height="34.0" fill="#dc3a44" fill-opacity="0.8"/>
<rect x="504.63" y="108.0" width="2.1" height="25.0" fill="#dc3a44"/>
<rect x="508.03" y="146.0" width="1.0" height="28.0" fill="#dc3a44" fill-opacity="0.8"/>
<rect x="507.48" y="149.0" width="2.1" height="6.6" fill="#dc3a44"/>
<rect x="510.89" y="152.0" width="1.0" height="83.0" fill="#dc3a44" fill-opacity="0.8"/>
<rect x="510.34" y="155.6" width="2.1" height="79.4" fill="#dc3a44"/>
<rect x="513.74" y="194.0" width="1.0" height="34.0" fill="#dc3a44" fill-opacity="0.8"/>
<rect x="513.19" y="207.0" width="2.1" height="16.0" fill="#dc3a44"/>
<rect x="516.59" y="200.0" width="1.0" height="41.0" fill="#2b8a6e" fill-opacity="0.8"/>
<rect x="516.04" y="203.0" width="2.1" height="20.0" fill="#2b8a6e"/>
<rect x="519.45" y="193.0" width="1.0" height="35.0" fill="#dc3a44" fill-opacity="0.8"/>
<rect x="518.90" y="194.0" width="2.1" height="22.0" fill="#dc3a44"/>
<rect x="522.30" y="194.0" width="1.0" height="25.0" fill="#dc3a44" fill-opacity="0.8"/>
<rect x="521.75" y="207.0" width="2.1" height="9.0" fill="#dc3a44"/>
<rect x="525.15" y="200.0" width="1.0" height="18.0" fill="#2b8a6e" fill-opacity="0.8"/>
<rect x="524.60" y="210.0" width="2.1" height="6.0" fill="#2b8a6e"/>
<rect x="528.01" y="216.0" width="1.0" height="41.0" fill="#dc3a44" fill-opacity="0.8"/>
<rect x="527.46" y="223.0" width="2.1" height="28.0" fill="#dc3a44"/>
<rect x="530.86" y="229.0" width="1.0" height="35.0" fill="#2b8a6e" fill-opacity="0.8"/>
<rect x="530.31" y="245.0" width="2.1" height="13.0" fill="#2b8a6e"/>
<rect x="533.71" y="232.0" width="1.0" height="38.0" fill="#dc3a44" fill-opacity="0.8"/>
<rect x="533.16" y="232.0" width="2.1" height="38.0" fill="#dc3a44"/>
<rect x="536.56" y="245.0" width="1.0" height="31.0" fill="#2b8a6e" fill-opacity="0.8"/>
<rect x="536.01" y="258.0" width="2.1" height="9.0" fill="#2b8a6e"/>
<rect x="539.42" y="241.0" width="1.0" height="26.0" fill="#2b8a6e" fill-opacity="0.8"/>
<rect x="538.87" y="242.0" width="2.1" height="16.0" fill="#2b8a6e"/>
<rect x="542.27" y="207.0" width="1.0" height="31.0" fill="#2b8a6e" fill-opacity="0.8"/>
<rect x="541.72" y="213.0" width="2.1" height="19.0" fill="#2b8a6e"/>
<rect x="545.12" y="199.0" width="1.0" height="23.0" fill="#2b8a6e" fill-opacity="0.8"/>
<rect x="544.57" y="200.0" width="2.1" height="13.0" fill="#2b8a6e"/>
<rect x="547.98" y="190.0" width="1.0" height="13.0" fill="#2b8a6e" fill-opacity="0.8"/>
<rect x="547.43" y="197.0" width="2.1" height="4.0" fill="#2b8a6e"/>
<rect x="550.83" y="207.0" width="1.0" height="25.0" fill="#2b8a6e" fill-opacity="0.8"/>
<rect x="550.28" y="216.0" width="2.1" height="16.0" fill="#2b8a6e"/>
<rect x="553.68" y="219.0" width="1.0" height="29.0" fill="#dc3a44" fill-opacity="0.8"/>
<rect x="553.13" y="219.6" width="2.1" height="28.4" fill="#dc3a44"/>
<rect x="556.54" y="232.0" width="1.0" height="29.0" fill="#dc3a44" fill-opacity="0.8"/>
<rect x="555.99" y="238.0" width="2.1" height="22.0" fill="#dc3a44"/>
<rect x="559.39" y="251.0" width="1.0" height="31.0" fill="#dc3a44" fill-opacity="0.8"/>
<rect x="558.84" y="257.0" width="2.1" height="16.0" fill="#dc3a44"/>
<rect x="562.24" y="273.0" width="1.0" height="29.0" fill="#dc3a44" fill-opacity="0.8"/>
<rect x="561.69" y="276.0" width="2.1" height="10.0" fill="#dc3a44"/>
<rect x="565.09" y="270.0" width="1.0" height="25.0" fill="#2b8a6e" fill-opacity="0.8"/>
<rect x="564.54" y="280.0" width="2.1" height="9.0" fill="#2b8a6e"/>
<rect x="567.95" y="273.0" width="1.0" height="27.0" fill="#dc3a44" fill-opacity="0.8"/>
<rect x="567.40" y="280.0" width="2.1" height="18.0" fill="#dc3a44"/>
<rect x="570.80" y="261.0" width="1.0" height="31.0" fill="#2b8a6e" fill-opacity="0.8"/>
<rect x="570.25" y="270.0" width="2.1" height="22.0" fill="#2b8a6e"/>
<rect x="573.65" y="261.0" width="1.0" height="22.0" fill="#dc3a44" fill-opacity="0.8"/>
<rect x="573.10" y="270.0" width="2.1" height="13.0" fill="#dc3a44"/>
<rect x="576.51" y="296.0" width="1.0" height="50.0" fill="#dc3a44" fill-opacity="0.8"/>
<rect x="575.96" y="296.0" width="2.1" height="48.0" fill="#dc3a44"/>
<rect x="579.36" y="296.0" width="1.0" height="37.0" fill="#2b8a6e" fill-opacity="0.8"/>
<rect x="578.81" y="296.0" width="2.1" height="19.0" fill="#2b8a6e"/>
<rect x="582.21" y="290.0" width="1.0" height="38.0" fill="#dc3a44" fill-opacity="0.8"/>
<rect x="581.66" y="296.0" width="2.1" height="31.0" fill="#dc3a44"/>
<rect x="585.07" y="302.0" width="1.0" height="28.0" fill="#2b8a6e" fill-opacity="0.8"/>
<rect x="584.52" y="309.0" width="2.1" height="20.0" fill="#2b8a6e"/>
<rect x="587.92" y="302.0" width="1.0" height="25.0" fill="#2b8a6e" fill-opacity="0.8"/>
<rect x="587.37" y="302.0" width="2.1" height="7.0" fill="#2b8a6e"/>
<rect x="590.77" y="263.6" width="1.0" height="37.4" fill="#2b8a6e" fill-opacity="0.8"/>
<rect x="590.22" y="267.0" width="2.1" height="25.0" fill="#2b8a6e"/>
<rect x="593.62" y="244.7" width="1.0" height="20.9" fill="#dc3a44" fill-opacity="0.8"/>
<rect x="593.07" y="244.7" width="2.1" height="19.9" fill="#dc3a44"/>
<rect x="596.48" y="240.7" width="1.0" height="16.9" fill="#dc3a44" fill-opacity="0.8"/>
<rect x="595.93" y="241.7" width="2.1" height="3.0" fill="#dc3a44"/>
<rect x="599.33" y="237.7" width="1.0" height="28.9" fill="#dc3a44" fill-opacity="0.8"/>
<rect x="598.78" y="238.3" width="2.1" height="25.3" fill="#dc3a44"/>
<rect x="602.18" y="212.8" width="1.0" height="47.8" fill="#2b8a6e" fill-opacity="0.8"/>
<rect x="601.63" y="212.8" width="2.1" height="44.8" fill="#2b8a6e"/>
<rect x="605.04" y="203.8" width="1.0" height="22.0" fill="#dc3a44" fill-opacity="0.8"/>
<rect x="604.49" y="206.8" width="2.1" height="13.0" fill="#dc3a44"/>
<rect x="607.89" y="215.8" width="1.0" height="25.9" fill="#2b8a6e" fill-opacity="0.8"/>
<rect x="607.34" y="237.7" width="2.1" height="1.3" fill="#2b8a6e"/>
<rect x="610.74" y="215.8" width="1.0" height="28.9" fill="#2b8a6e" fill-opacity="0.8"/>
<rect x="610.19" y="224.8" width="2.1" height="1.0" fill="#2b8a6e"/>
<rect x="613.60" y="193.9" width="1.0" height="30.9" fill="#2b8a6e" fill-opacity="0.8"/>
<rect x="613.05" y="199.9" width="2.1" height="22.9" fill="#2b8a6e"/>
<rect x="616.45" y="174.6" width="1.0" height="25.3" fill="#dc3a44" fill-opacity="0.8"/>
<rect x="615.90" y="178.0" width="2.1" height="21.9" fill="#dc3a44"/>
<rect x="619.30" y="196.9" width="1.0" height="15.9" fill="#2b8a6e" fill-opacity="0.8"/>
<rect x="618.75" y="199.9" width="2.1" height="3.9" fill="#2b8a6e"/>
<rect x="622.15" y="193.9" width="1.0" height="36.8" fill="#dc3a44" fill-opacity="0.8"/>
<rect x="621.60" y="199.9" width="2.1" height="29.2" fill="#dc3a44"/>
<rect x="625.01" y="228.7" width="1.0" height="25.1" fill="#dc3a44" fill-opacity="0.8"/>
<rect x="624.46" y="234.7" width="2.1" height="4.0" fill="#dc3a44"/>
<rect x="627.86" y="216.4" width="1.0" height="20.3" fill="#dc3a44" fill-opacity="0.8"/>
<rect x="627.31" y="231.7" width="2.1" height="3.0" fill="#dc3a44"/>
<rect x="630.71" y="222.8" width="1.0" height="24.9" fill="#2b8a6e" fill-opacity="0.8"/>
<rect x="630.16" y="225.8" width="2.1" height="5.9" fill="#2b8a6e"/>
<rect x="633.57" y="215.8" width="1.0" height="34.9" fill="#dc3a44" fill-opacity="0.8"/>
<rect x="633.02" y="218.8" width="2.1" height="31.9" fill="#dc3a44"/>
<rect x="636.42" y="245.0" width="1.0" height="21.8" fill="#2b8a6e" fill-opacity="0.8"/>
<rect x="635.87" y="249.6" width="2.1" height="2.1" fill="#2b8a6e"/>
<rect x="639.27" y="251.2" width="1.0" height="21.9" fill="#dc3a44" fill-opacity="0.8"/>
<rect x="638.72" y="251.2" width="2.1" height="21.9" fill="#dc3a44"/>
<rect x="642.13" y="256.6" width="1.0" height="25.9" fill="#2b8a6e" fill-opacity="0.8"/>
<rect x="641.58" y="257.4" width="2.1" height="16.2" fill="#2b8a6e"/>
<rect x="644.98" y="245.0" width="1.0" height="15.0" fill="#2b8a6e" fill-opacity="0.8"/>
<rect x="644.43" y="250.2" width="2.1" height="1.0" fill="#2b8a6e"/>
<rect x="647.83" y="241.8" width="1.0" height="21.9" fill="#dc3a44" fill-opacity="0.8"/>
<rect x="647.28" y="251.2" width="2.1" height="6.2" fill="#dc3a44"/>
<rect x="650.68" y="238.1" width="1.0" height="22.5" fill="#2b8a6e" fill-opacity="0.8"/>
<rect x="650.13" y="241.3" width="2.1" height="9.4" fill="#2b8a6e"/>
<line x1="0" y1="241.5" x2="681" y2="241.5" stroke="#2b8a6e" stroke-width="1" stroke-dasharray="1 1" stroke-opacity="0.5"/>
<rect x="0" y="481.5" width="720" height="1" fill="#e0e3eb"/>
<rect x="0" y="502" width="720" height="1" fill="#e0e3eb"/>
<circle cx="63.6" cy="472.5" r="6.9" fill="#fff" stroke="#2962ff" stroke-width="1.1"/><path d="M61.3 472.6 q2.3 1.9 4.6 0" fill="none" stroke="#2962ff" stroke-width="1.2"/>
<rect x="5" y="455" width="120" height="16" fill="#fff" fill-opacity="0.95"/>
<circle cx="177.6" cy="472.6" r="6.9" fill="#fff" stroke="#2962ff" stroke-width="1.1"/><text x="177.7" y="475.3" font-family="Liberation Sans" font-weight="bold" font-size="7.6" fill="#2962ff" text-anchor="middle">D</text>
<circle cx="325.9" cy="472.5" r="6.9" fill="#fff" stroke="#f59a23" stroke-width="1.1"/><text x="325.9" y="475.2" font-family="Liberation Sans" font-weight="bold" font-size="7.6" fill="#f59a23" text-anchor="middle">S</text>
<circle cx="651.4" cy="472.3" r="6.9" fill="#fff" stroke="#9c27b0" stroke-width="1.1"/><path d="M653.2 468.6 L649.4 472.8 L652.6 472.2 L649.6 476.2" fill="none" stroke="#9c27b0" stroke-width="1.3" stroke-linejoin="round" stroke-linecap="round"/>
<g fill="#131722"><path d="M8 460.9 H16.3 V471.3 H12.3 V464.8 H8 Z"/><circle cx="20" cy="463" r="1.9"/><path d="M25 460.9 H28.9 L24.8 471.3 H20.8 Z"/></g>
<path d="M699.1 487.3 H704.1 L706.6 491.8 L704.1 496.3 H699.1 L696.6 491.8 Z" fill="none" stroke="#131722" stroke-width="1.1" stroke-linejoin="round"/><circle cx="701.6" cy="491.8" r="1.5" fill="none" stroke="#131722" stroke-width="1.1"/>
<rect x="300.3" y="508.3" width="1" height="15" fill="#e0e3eb"/>
<rect x="674.5" y="509" width="1" height="14" fill="#e0e3eb"/>
<rect x="194.7" y="524.6" width="17" height="1.8" rx="0.9" fill="#2962ff"/>
<g fill="none" stroke="#2a2e39" stroke-width="1.05" stroke-linecap="round" stroke-linejoin="round"><path d="M311.4 515.4 V512 Q311.4 510.4 313 510.4 H322 Q323.6 510.4 323.6 512 V520 Q323.6 521.5 322 521.5 H318"/><path d="M311.4 513.6 H323.6"/><path d="M310.3 519.4 H315.6 M313.6 517.3 L315.7 519.4 L313.6 521.5"/></g><circle cx="315.2" cy="510.4" r="1" fill="#131722"/><circle cx="320.3" cy="510.4" r="1" fill="#131722"/>
<circle cx="12.3" cy="10.6" r="6.35" fill="#1f5bb5"/><path d="M10.1 8.1 L12.3 9.6 L14.4 8.1" fill="none" stroke="#f6c21c" stroke-width="1.3" stroke-linecap="round"/><path d="M9.3 10.6 H14.9 M11.6 10.6 L10.9 13.7 M13.0 10.6 L13.7 13.7" fill="none" stroke="#f29a22" stroke-width="1.2" stroke-linecap="round"/>
<path d="M283 4.3 H291 V17.1 H283 A6.4 6.4 0 0 1 283 4.3 Z" fill="#ebedf1"/><path d="M291 4.3 H298.5 A6.4 6.4 0 0 1 298.5 17.1 H291 Z" fill="#fde6cc"/><rect x="281" y="9.5" width="7.4" height="2.5" rx="1.25" fill="#8a8d97"/>
<rect x="5.7" y="22.8" width="35.6" height="16" rx="3" fill="#fff" stroke="#f7868f" stroke-width="1"/>
<rect x="63.5" y="22.8" width="36" height="16" rx="3" fill="#fff" stroke="#6d8ff8" stroke-width="1"/>
<rect x="6.6" y="61.6" width="19.6" height="14.2" rx="2.5" fill="#fff" stroke="#e0e3eb" stroke-width="1"/>
<path d="M13.8 70 L16.4 67.4 L19 70" fill="none" stroke="#131722" stroke-width="1.3" stroke-linecap="round" stroke-linejoin="round"/>
<g fill="none" stroke="#4a4e59" stroke-width="1.1"><path d="M59.3 50.5 C 60.6 45.6, 68.9 45.6, 70.2 50.5 C 68.9 55.4, 60.6 55.4, 59.3 50.5 Z"/><circle cx="64.9" cy="50.4" r="1.6"/><path d="M60.3 55.5 L69 46.5" stroke-linecap="round"/></g>
</svg>
<div class="t" style="position:absolute;left:0;top:0;width:720px;height:527px;will-change:transform;">
<div style="left:21.0px;top:5.4px;font-size:11.5px;color:#131722;">NGAN HANG TMCP QUOC TE VN</div>
<div style="left:203.05px;top:5.4px;font-size:11.3px;color:#131722;">·</div>
<div style="left:210.2px;top:5.4px;font-size:11.3px;color:#131722;">1D</div>
<div style="left:226.75px;top:5.4px;font-size:11.3px;color:#131722;">·</div>
<div style="left:233.3px;top:5.4px;font-size:11.3px;color:#131722;">HOSE</div>
<div style="left:294.2px;top:6.5px;font-size:8.9px;color:#ec7d22;font-weight:bold;">D</div>
<div style="left:316.6px;top:5.8px;font-size:9.4px;color:#3a9a7e;"><span style="color:#131722">O</span>18800</div>
<div style="left:355.1px;top:5.8px;font-size:9.4px;color:#3a9a7e;"><span style="color:#131722">H</span>19000</div>
<div style="left:392.6px;top:5.8px;font-size:9.4px;color:#3a9a7e;"><span style="color:#131722">L</span>18650</div>
<div style="left:428.75px;top:5.8px;font-size:9.4px;color:#3a9a7e;"><span style="color:#131722">C</span>18950</div>
<div style="left:467.0px;top:5.8px;font-size:9.4px;color:#3a9a7e;">+250 (+1.34%)</div>
<div style="left:11.0px;top:26.4px;font-size:9.5px;color:#f23645;">18900</div>
<div style="left:47.9px;top:26.6px;font-size:9.2px;color:#3b3f4a;font-weight:bold;">50</div>
<div style="left:68.6px;top:26.4px;font-size:9.5px;color:#2962ff;">18950</div>
<div style="left:5.6px;top:47.0px;font-size:9.1px;color:#b2b5be;">Khối lượng</div>
<div style="left:681px;top:0;width:39px;height:481.5px;overflow:hidden;"><div style="left:6.6px;top:17.10px;font-size:9.4px;color:#131722;">22400</div><div style="left:6.6px;top:42.55px;font-size:9.4px;color:#131722;">22000</div><div style="left:6.6px;top:67.99px;font-size:9.4px;color:#131722;">21600</div><div style="left:6.6px;top:93.44px;font-size:9.4px;color:#131722;">21200</div><div style="left:6.6px;top:118.89px;font-size:9.4px;color:#131722;">20800</div><div style="left:6.6px;top:144.34px;font-size:9.4px;color:#131722;">20400</div><div style="left:6.6px;top:169.78px;font-size:9.4px;color:#131722;">20000</div><div style="left:6.6px;top:195.23px;font-size:9.4px;color:#131722;">19600</div><div style="left:6.6px;top:220.68px;font-size:9.4px;color:#131722;">19200</div><div style="left:6.6px;top:246.12px;font-size:9.4px;color:#131722;">18800</div><div style="left:6.6px;top:271.57px;font-size:9.4px;color:#131722;">18400</div><div style="left:6.6px;top:297.02px;font-size:9.4px;color:#131722;">18000</div><div style="left:6.6px;top:322.46px;font-size:9.4px;color:#131722;">17600</div><div style="left:6.6px;top:347.91px;font-size:9.4px;color:#131722;">17200</div><div style="left:6.6px;top:373.36px;font-size:9.4px;color:#131722;">16800</div><div style="left:6.6px;top:398.80px;font-size:9.4px;color:#131722;">16400</div><div style="left:6.6px;top:424.25px;font-size:9.4px;color:#131722;">16000</div><div style="left:6.6px;top:449.70px;font-size:9.4px;color:#131722;">15600</div><div style="left:6.6px;top:475.15px;font-size:9.4px;color:#131722;">15200</div></div>
<div style="left:681px;top:235.2px;width:36.9px;height:12.3px;border-radius:1.2px;background:#2e8f74;"></div>
<div style="left:687.6px;top:236.2px;font-size:9.4px;color:#ffffff;">18950</div>
<div style="left:0.9px;top:487.2px;font-size:9.8px;color:#131722;font-weight:bold;letter-spacing:0.6px;">23</div>
<div style="left:9.6px;top:511.8px;font-size:9.8px;color:#131722;transform:scaleY(1.12);transform-origin:0 8.3px;">1 Ngày</div>
<div style="left:49.3px;top:511.8px;font-size:9.8px;color:#131722;transform:scaleY(1.12);transform-origin:0 8.3px;">5 Ngày</div>
<div style="left:90.9px;top:511.8px;font-size:9.8px;color:#131722;transform:scaleY(1.12);transform-origin:0 8.3px;">1 Thg</div>
<div style="left:124.4px;top:511.8px;font-size:9.8px;color:#131722;transform:scaleY(1.12);transform-origin:0 8.3px;">3 Thg</div>
<div style="left:158.5px;top:511.8px;font-size:9.8px;color:#131722;transform:scaleY(1.12);transform-origin:0 8.3px;">6 Thg</div>
<div style="left:222.7px;top:511.8px;font-size:9.8px;color:#131722;transform:scaleY(1.12);transform-origin:0 8.3px;">1N</div>
<div style="left:243.9px;top:511.8px;font-size:9.8px;color:#131722;transform:scaleY(1.12);transform-origin:0 8.3px;">5N</div>
<div style="left:265.2px;top:511.8px;font-size:9.8px;color:#131722;transform:scaleY(1.12);transform-origin:0 8.3px;">Tất cả</div>
<div style="left:193.5px;top:511.8px;font-size:9.8px;color:#2962ff;transform:scaleY(1.12);transform-origin:0 8.3px;">YTD</div>
<div style="left:586.5px;top:511.8px;font-size:9.8px;color:#131722;transform:scaleY(1.12);transform-origin:0 8.3px;">17:37:17 (UTC+7)</div>
<div style="left:681.8px;top:511.8px;font-size:9.8px;color:#131722;transform:scaleY(1.12);transform-origin:0 8.3px;">đ.chỉnh</div>
</div>
<div class="clip"><div style="position:absolute;white-space:nowrap;line-height:1;left:103.3px;top:6.6px;font-size:9px;color:#131722;transform:translateX(-50%);">Tháng 3</div><div style="position:absolute;white-space:nowrap;line-height:1;left:169.2px;top:6.6px;font-size:9px;color:#131722;transform:translateX(-50%);">Tháng 4</div><div style="position:absolute;white-space:nowrap;line-height:1;left:283px;top:6.6px;font-size:9px;color:#131722;transform:translateX(-50%);">Tháng 6</div><div style="position:absolute;white-space:nowrap;line-height:1;left:345.8px;top:6.6px;font-size:9px;color:#131722;transform:translateX(-50%);">Tháng 7</div><div style="position:absolute;white-space:nowrap;line-height:1;left:405.8px;top:6.6px;font-size:9px;color:#131722;transform:translateX(-50%);">Tháng Tám</div><div style="position:absolute;white-space:nowrap;line-height:1;left:470.9px;top:6.6px;font-size:9px;color:#131722;transform:translateX(-50%);">Tháng 9</div><div style="position:absolute;white-space:nowrap;line-height:1;left:588.5px;top:6.6px;font-size:9px;color:#131722;transform:translateX(-50%);">Tháng 11</div><div style="position:absolute;white-space:nowrap;line-height:1;left:620.6px;top:6.6px;font-size:9px;color:#131722;letter-spacing:-0.3px;">Tháng Mười hai</div><div style="position:absolute;left:674px;top:0;width:7px;height:20px;background:linear-gradient(to right,rgba(255,255,255,0),#fff);"></div></div>
<div style="position:absolute;left:34.5px;top:459.3px;font-size:13.2px;line-height:1;font-weight:bold;color:#131722;transform:scaleX(1.1);transform-origin:0 0;will-change:transform;font-family:"Liberation Sans",sans-serif;">TradingView</div>
</body></html>
